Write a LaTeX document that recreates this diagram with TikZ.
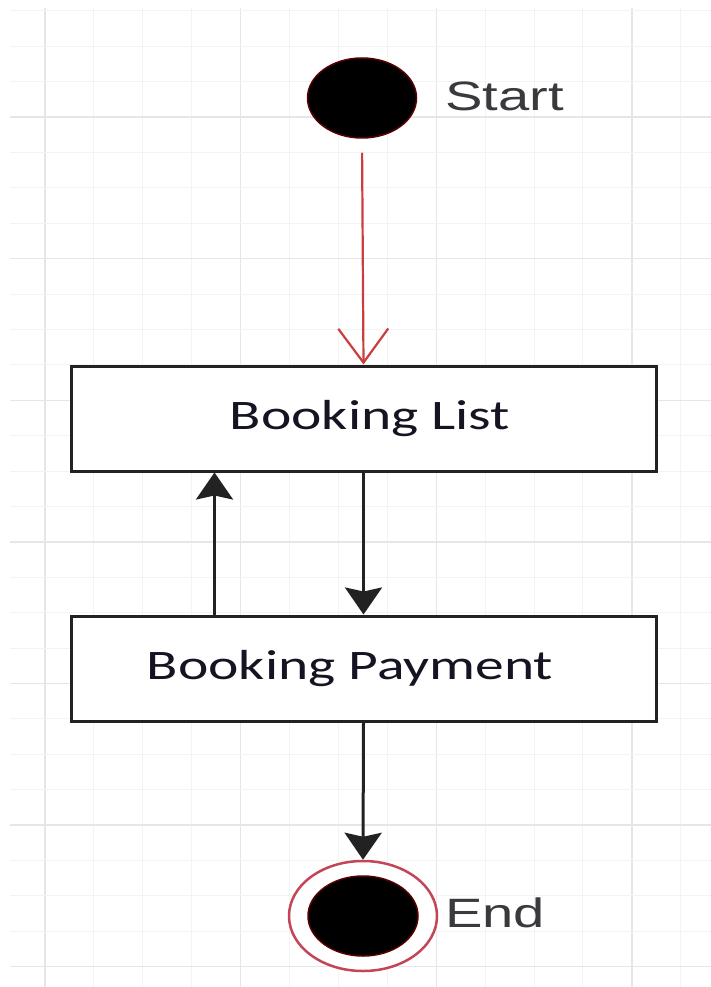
\documentclass[tikz,border=0pt]{standalone}
\usepackage{graphicx}
\usepackage{fontspec}
\newfontfamily\boxfont{Carlito}
\newfontfamily\labelfont{Liberation Sans}
\usetikzlibrary{arrows.meta,shapes.geometric,calc}

\definecolor{gridthin}{RGB}{243,243,243}
\definecolor{gridthick}{RGB}{230,230,230}
\definecolor{flowred}{RGB}{204,62,62}
\definecolor{ringred}{RGB}{196,70,86}
\definecolor{edgered}{RGB}{90,0,0}
\definecolor{boxline}{RGB}{34,34,34}
\definecolor{boxtext}{RGB}{20,20,34}
\definecolor{labeltext}{RGB}{58,58,62}

\newcommand{\stretchtext}[1]{\scalebox{1.37}[1]{#1}}

\tikzset{
    statebox/.style = {rectangle, draw = boxline, line width = 3pt, fill = white,
        minimum width = 585pt, minimum height = 105pt, inner sep = 0pt,
        font = \boxfont\fontsize{42}{48}\selectfont, text = boxtext},
    initstate/.style = {ellipse, fill = black, draw = edgered, line width = 1.5pt,
        minimum width = 109pt, minimum height = 80pt, inner sep = 0pt},
    finalring/.style = {ellipse, fill = white, draw = ringred, line width = 2.5pt,
        minimum width = 148pt, minimum height = 110pt, inner sep = 0pt},
    statelabel/.style = {anchor = west, inner sep = 0pt,
        font = \labelfont\fontsize{41}{48}\selectfont, text = labeltext},
    flow/.style = {draw = boxline, line width = 3pt,
        -{Stealth[length = 27pt, width = 37pt, inset = 4pt]}},
    startflow/.style = {draw = flowred, line width = 2.2pt,
        -{Straight Barb[length = 34pt, width = 50pt, line width = 2.2pt]}}
}

\begin{document}
\begin{tikzpicture}[x = 1pt, y = -1pt]
    \useasboundingbox (0, 0) rectangle (711, 987);
    \fill [white] (0, 0) rectangle (711, 987);

    % background grid
    \foreach \i in {0, ..., 13} {
        \pgfmathsetmacro{\gx}{45 + 48.9 * \i}
        \pgfmathtruncatemacro{\major}{mod(\i, 4) == 0}
        \ifnum\major=1
            \draw [gridthick, line width = 1.4pt] (\gx, 8) -- (\gx, 987);
        \else
            \draw [gridthin, line width = 1pt] (\gx, 8) -- (\gx, 987);
        \fi
    }
    \foreach \j in {0, ..., 27} {
        \pgfmathsetmacro{\gy}{10.8 + 35.4 * \j}
        \pgfmathtruncatemacro{\major}{mod(\j + 1, 4) == 0}
        \ifnum\major=1
            \draw [gridthick, line width = 1.4pt] (10, \gy) -- (711, \gy);
        \else
            \draw [gridthin, line width = 1pt] (10, \gy) -- (711, \gy);
        \fi
    }

    % states
    \node [initstate] (start) at (362, 98) {};
    \node [statelabel] (startlabel) at (445, 96) {\stretchtext{Start}};

    \node [statebox] (list) at (363.5, 418.5) {\hspace*{13pt}\stretchtext{Booking List}};
    \node [statebox] (payment) at (363.5, 668.5) {\stretchtext{Booking Payment}\hspace*{27pt}};

    \node [finalring] (end) at (363, 916) {};
    \fill [black, draw = edgered, line width = 1.5pt]
        (end.center) ellipse [x radius = 55pt, y radius = 40pt];
    \node [statelabel] (endlabel) at (445, 913) {\stretchtext{End}};

    % transitions
    \draw [startflow, shorten <= 14pt] (start.south) -- (list.north);
    \draw [flow] (list.south) -- (payment.north);
    \draw [flow] ([xshift = 145pt] payment.north west) -- ([xshift = 145pt] list.south west);
    \draw [flow] (payment.south) -- (end.north);
\end{tikzpicture}
\end{document}
